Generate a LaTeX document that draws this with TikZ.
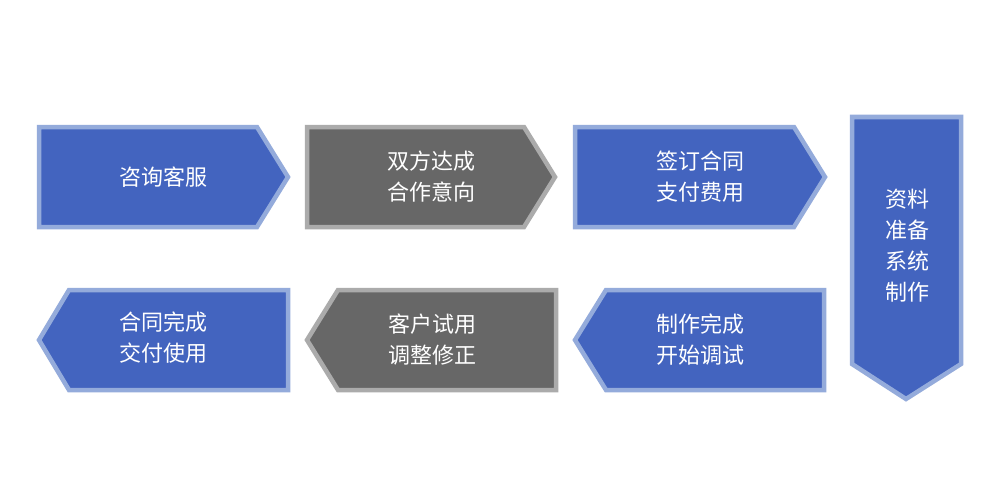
\documentclass[tikz,border=0pt]{standalone}
\usepackage{fontspec}
\newfontfamily\cjk{Noto Sans CJK SC}
\definecolor{bfill}{HTML}{4364BF}
\definecolor{bline}{HTML}{94ABDB}
\definecolor{gfill}{HTML}{676767}
\definecolor{gline}{HTML}{ABABAB}
\begin{document}
\begin{tikzpicture}[x=1pt,y=-1pt,
  blue/.style={fill=bfill,draw=bline,line width=4.5pt,line join=miter},
  gray/.style={fill=gfill,draw=gline,line width=4.5pt,line join=miter},
  lbl/.style={text=white,font=\cjk\fontsize{22}{31}\selectfont,align=center}]
\useasboundingbox (0,0) rectangle (1000,500);
\fill[white] (0,0) rectangle (1000,500);
% top row
\draw[blue] (39,127) -- (257,127) -- (288,177) -- (257,227) -- (39,227) -- cycle;
\draw[gray] (307,127) -- (524,127) -- (555,177) -- (524,227) -- (307,227) -- cycle;
\draw[blue] (575,127) -- (794,127) -- (825,177) -- (794,227) -- (575,227) -- cycle;
% vertical
\draw[blue] (852,117) -- (961,117) -- (961,364) -- (906,399) -- (852,364) -- cycle;
% bottom row
\draw[blue] (824,290) -- (824,390) -- (606,390) -- (575,340) -- (606,290) -- cycle;
\draw[gray] (556,290) -- (556,390) -- (338,390) -- (307,340) -- (338,290) -- cycle;
\draw[blue] (288,290) -- (288,390) -- (69,390) -- (39,340) -- (69,290) -- cycle;
\node[lbl] (t1) at (163,177) {咨询客服};
\node[lbl] (t2) at (431,177) {双方达成\\合作意向};
\node[lbl] (t3) at (700,177) {签订合同\\支付费用};
\node[lbl] (t4) at (907,246) {资料\\准备\\系统\\制作};
\node[lbl] (t5) at (700,340) {制作完成\\开始调试};
\node[lbl] (t6) at (432,340) {客户试用\\调整修正};
\node[lbl] (t7) at (163,338) {合同完成\\交付使用};
\end{tikzpicture}
\end{document}
